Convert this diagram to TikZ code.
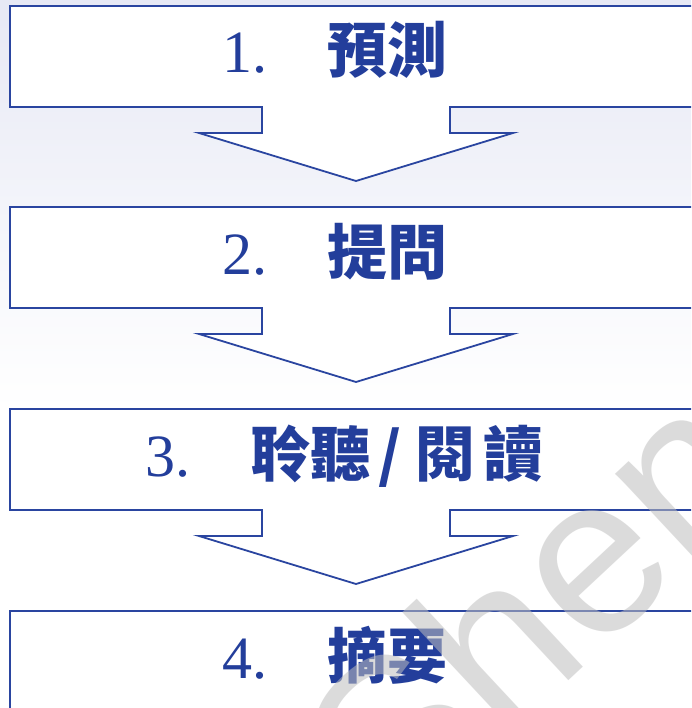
\documentclass[tikz,border=0pt]{standalone}
\usepackage{xcolor}
\usepackage{fontspec}
\setmainfont{Liberation Serif}
\newfontfamily\cjkfont{Noto Sans CJK TC}
\newfontfamily\markfont{Liberation Sans}
\usepackage{tikz}
\usetikzlibrary{calc}
\definecolor{stepblue}{RGB}{42,69,160}
\definecolor{textblue}{RGB}{35,62,155}
\definecolor{bgtop}{RGB}{231,233,245}

\begin{document}
\begin{tikzpicture}[x=1pt,y=-1pt,
    callout/.style={draw=stepblue,line width=1.8pt,fill=white,line join=miter},
    lbl/.style={anchor=base west,inner sep=0pt,text=textblue,font=\fontsize{60}{60}\selectfont},
    wm/.style={anchor=base west,inner sep=0pt,rotate=43,text=black!25,text opacity=0.55,font=\markfont\fontsize{225}{225}\selectfont}]
  \useasboundingbox (0,0) rectangle (691,708);
  \clip (0,0) rectangle (691,708);
  % slide background
  \fill[white] (0,0) rectangle (691,708);
  \shade[top color=bgtop,bottom color=white] (0,0) rectangle (691,410);
  % three boxes with a down arrow below
  \foreach \y in {6,207,409} {
    \draw[callout] (262,\y+101) -- (10,\y+101) -- (10,\y) -- (720,\y) -- (720,\y+101)
      -- (450,\y+101) -- (450,\y+127) -- (513,\y+127) -- (356,\y+175)
      -- (199,\y+127) -- (262,\y+127) -- cycle;
  }
  % last box, no arrow
  \draw[callout] (10,611) rectangle (720,760);
  % step labels
  \node[lbl] (predict) at (222,73) {1.\hspace{1em}{\cjkfont\bfseries 預測}};
  \node[lbl] (ask) at (222,274) {2.\hspace{1em}{\cjkfont\bfseries 提問}};
  \node[lbl] (listen) at (145,476) {3.\hspace{1em}{\cjkfont\bfseries 聆聽\hspace{8pt}/\hspace{14pt}閱\hspace{8pt}讀}};
  \node[lbl] (summary) at (222,678) {4.\hspace{1em}{\cjkfont\bfseries 摘要}};
  % watermark
  \node[wm] (mark) at (393,845) {Shen};
\end{tikzpicture}
\end{document}
